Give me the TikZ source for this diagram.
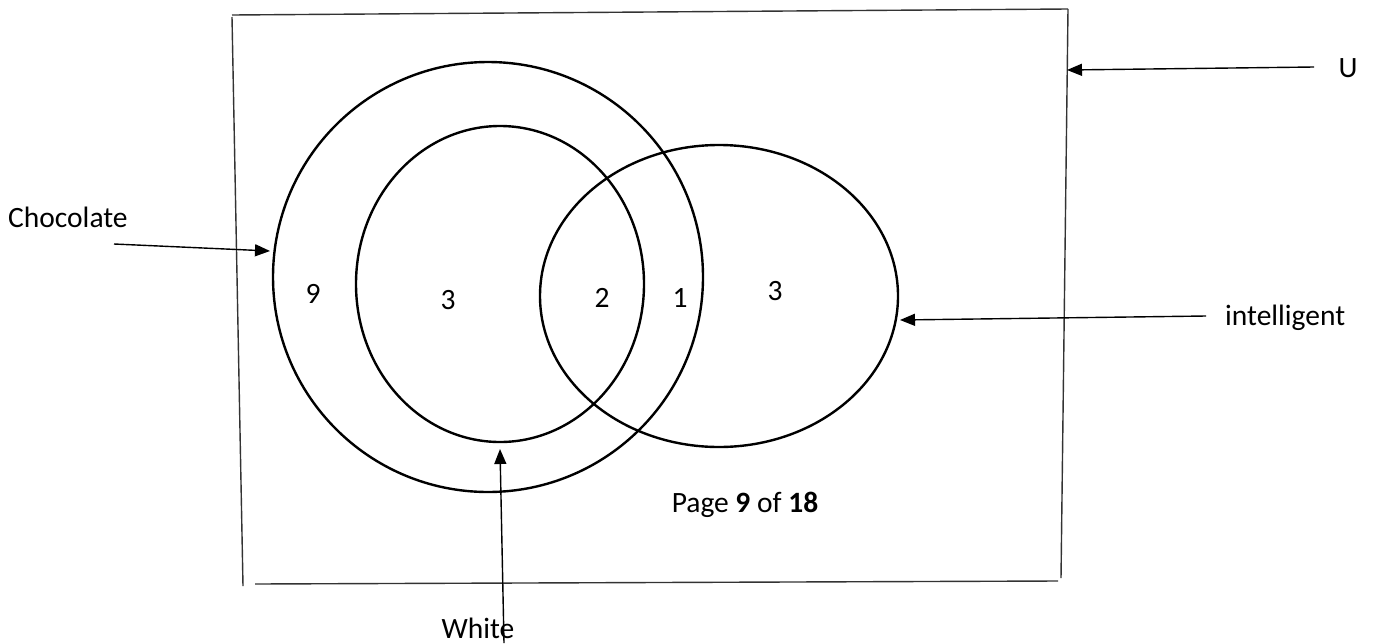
\documentclass[tikz,border=0pt]{standalone}
\usepackage{fontspec}
\setmainfont{Carlito}
\usetikzlibrary{arrows.meta}
\begin{document}
\begin{tikzpicture}[x=1pt,y=-1pt,
  every node/.style={font=\fontsize{29.5}{35}\selectfont, inner sep=0pt},
  boxline/.style={line width=1.4pt, black!80},
  setline/.style={line width=2.4pt},
  pointer/.style={line width=1.4pt, -{Triangle[length=15pt,width=12pt]}}]
\useasboundingbox (0,0) rectangle (1373,643);
% universal set: four loose strokes
\draw[boxline] (232,15) -- (1068,9);
\draw[boxline] (232,17) -- (243,586);
\draw[boxline] (1068,9) -- (1061,578);
\draw[boxline] (255,584) -- (1058,581);
% sets
\draw[setline] (488,277) circle[radius=215];
\draw[setline] (500,284) ellipse[x radius=144, y radius=158];
\draw[setline] (719,296) ellipse[x radius=179, y radius=151];
% region counts
\node (n9) at (313,294) {9};
\node (n3a) at (448,300) {3};
\node (n2) at (602,298) {2};
\node (n1) at (680,298) {1};
\node (n3b) at (775,291) {3};
% labels and pointers
\node (U) at (1348,68) {U};
\coordinate (Ustart) at (1314,67);
\coordinate (Uend) at (1067,70);
\draw[pointer] (Ustart) -- (Uend);
\node[anchor=west] (choc) at (8,217) {Chocolate};
\coordinate (cstart) at (114,244);
\coordinate (cend) at (270,251);
\draw[pointer] (cstart) -- (cend);
\node[anchor=west] (intel) at (1225,318) {intelligent};
\coordinate (istart) at (1206,316);
\coordinate (iend) at (900,320);
\draw[pointer] (istart) -- (iend);
\node (white) at (478,628) {White};
\coordinate (wstart) at (504,643);
\coordinate (wend) at (500,449);
\draw[pointer] (wstart) -- (wend);
\node (page) at (745,505) {Page \textbf{9} of \textbf{18}};
\end{tikzpicture}
\end{document}
